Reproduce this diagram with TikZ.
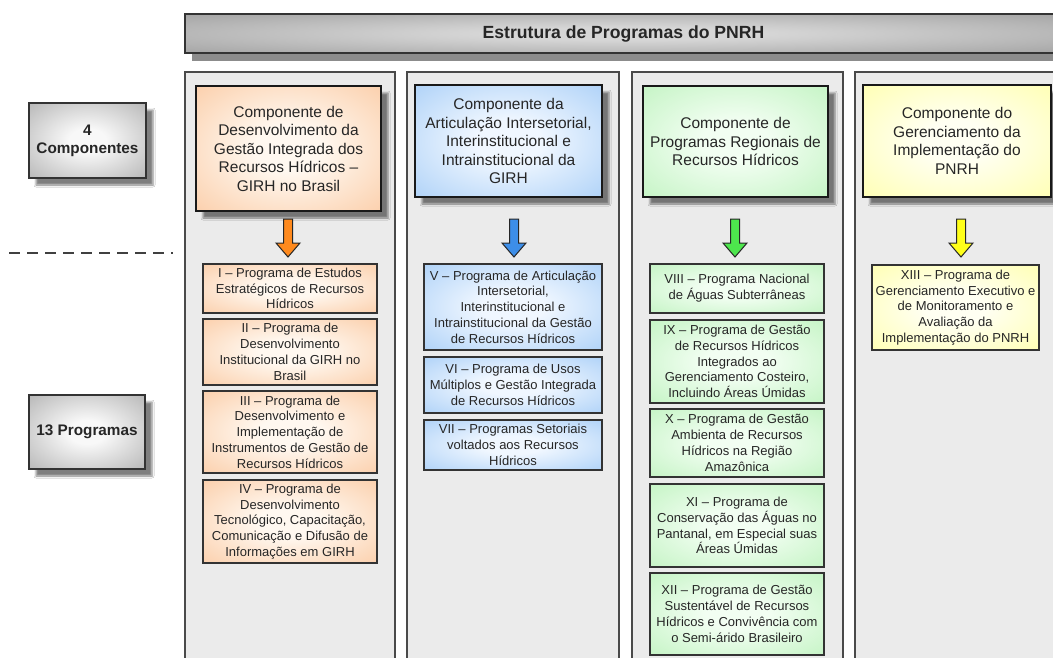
\documentclass[tikz,border=0pt]{standalone}
\usepackage{fontspec}
\setmainfont{Liberation Sans}
\usetikzlibrary{shadows.blur}
\definecolor{txtc}{HTML}{262626}
\definecolor{orC}{HTML}{FFF8F0}
\definecolor{orE}{HTML}{F8AE74}
\definecolor{blC}{HTML}{F0F7FF}
\definecolor{blE}{HTML}{7AB4F2}
\definecolor{grC}{HTML}{F2FEF2}
\definecolor{grE}{HTML}{A0ECA0}
\definecolor{yeC}{HTML}{FFFFF2}
\definecolor{yeE}{HTML}{FFFF82}
\definecolor{gyC}{HTML}{F8F8F8}
\definecolor{gyE}{HTML}{888888}
\definecolor{tiC}{HTML}{D6D6D6}
\definecolor{tiE}{HTML}{8A8A8A}
\definecolor{colF}{HTML}{EBEBEB}
\definecolor{colB}{HTML}{4A4A4A}
\definecolor{arO}{HTML}{FF8A1E}
\definecolor{arB}{HTML}{3D8EE8}
\definecolor{arG}{HTML}{4DE64D}
\definecolor{arY}{HTML}{FFFF1A}
\pgfdeclareradialshading{shO}{\pgfpoint{0bp}{0bp}}{color(0bp)=(orC); color(9bp)=(orC); color(58bp)=(orE); color(80bp)=(orE)}
\pgfdeclareradialshading{shB}{\pgfpoint{0bp}{0bp}}{color(0bp)=(blC); color(9bp)=(blC); color(58bp)=(blE); color(80bp)=(blE)}
\pgfdeclareradialshading{shG}{\pgfpoint{0bp}{0bp}}{color(0bp)=(grC); color(9bp)=(grC); color(58bp)=(grE); color(80bp)=(grE)}
\pgfdeclareradialshading{shY}{\pgfpoint{0bp}{0bp}}{color(0bp)=(yeC); color(9bp)=(yeC); color(58bp)=(yeE); color(80bp)=(yeE)}
\pgfdeclareradialshading{shGy}{\pgfpoint{0bp}{0bp}}{color(0bp)=(gyC); color(8bp)=(gyC); color(56bp)=(gyE); color(80bp)=(gyE)}
\pgfdeclareradialshading{shT}{\pgfpoint{0bp}{0bp}}{color(0bp)=(tiC); color(8bp)=(tiC); color(50bp)=(tiE); color(75bp)=(tiE)}
\tikzset{
  boxshadow/.style={blur shadow={shadow xshift=7pt, shadow yshift=-7pt, shadow blur radius=2pt, shadow opacity=50}},
  colbox/.style={draw=colB, line width=1.3pt, fill=colF, anchor=north west, outer sep=0pt, inner sep=0pt, minimum width=#1, minimum height=660},
  comp/.style={draw=black!90, line width=2.2pt, shading=#1, boxshadow, text=txtc, align=center, inner sep=0pt, outer sep=0pt,
    font=\fontsize{15.5}{18.5}\selectfont},
  prog/.style={draw=black!80, line width=1.5pt, shading=#1, text=txtc, align=center, inner sep=0pt, outer sep=0pt,
    anchor=north west, font=\fontsize{13}{15.8}\selectfont},
  lbl/.style={draw=black!80, line width=2pt, shading=shGy, boxshadow, text=txtc, align=center, inner sep=0pt,
    font=\fontsize{15.3}{18}\selectfont\bfseries},
  blockarrow/.style={draw=black!85, line width=1pt, fill=#1, line join=miter},
  sep/.style={draw=black!75, line width=1.5pt, dash pattern=on 11pt off 7pt},
}
\newcommand{\barrow}[2]{\path[blockarrow=#2, shift={(#1)}] (-4.5,0) -- (4.5,0) -- (4.5,24) -- (12,24) -- (0,38) -- (-12,24) -- (-4.5,24) -- cycle;}
\begin{document}
\begin{tikzpicture}[x=1pt,y=-1pt]
\useasboundingbox (0,0) rectangle (1053,657);
\clip (0,0) rectangle (1053,657);
\fill[white] (0,0) rectangle (1053,657);
% title bar
\node[draw=black!80, line width=2pt, shading=shT, anchor=north west, minimum width=877, minimum height=39, inner sep=0pt,
  drop shadow={shadow xshift=7pt, shadow yshift=-8pt, fill=black!45, opacity=1}] (title) at (184,13) {};
\node[text=black!85, font=\fontsize{17.6}{20}\selectfont\bfseries, inner sep=0pt] (titletext) at (title.center) {Estrutura de Programas do PNRH};
% columns
\node[colbox=210] (col1) at (185,72) {};
\node[colbox=212] (col2) at (407,72) {};
\node[colbox=211] (col3) at (632,72) {};
\node[colbox=212] (col4) at (855,72) {};
% left labels
\node[lbl, minimum width=117, minimum height=75] (lab1) at (87.5,140.5) {4\\Componentes};
\node[lbl, minimum width=116, minimum height=74] (lab2) at (87,432) {13 Programas};
\coordinate (d1) at (9,253);
\coordinate (d2) at (173,253);
\draw[sep] (d1) -- (d2);
% components
\node[comp=shO, minimum width=185, minimum height=125] (c1) at (288.5,148.5) {Componente de\\Desenvolvimento da\\Gestão Integrada dos\\Recursos Hídricos –\\GIRH no Brasil};
\node[comp=shB, minimum width=187, minimum height=112] (c2) at (508.5,141) {Componente da\\Articulação Intersetorial,\\Interinstitucional e\\Intrainstitucional da\\GIRH};
\node[comp=shG, minimum width=185, minimum height=111] (c3) at (735.5,141.5) {Componente de\\Programas Regionais de\\Recursos Hídricos};
\node[comp=shY, minimum width=188, minimum height=112] (c4) at (957,141) {Componente do\\Gerenciamento da\\Implementação do\\PNRH};
% arrows
\coordinate (a1) at (288,219);
\coordinate (a2) at (514,219);
\coordinate (a3) at (735,219);
\coordinate (a4) at (961,219);
\barrow{a1}{arO}
\barrow{a2}{arB}
\barrow{a3}{arG}
\barrow{a4}{arY}
% programs
\node[prog=shO, minimum width=174, minimum height=49] (p1) at (203,264) {I – Programa de Estudos\\Estratégicos de Recursos\\Hídricos};
\node[prog=shO, minimum width=174, minimum height=66] (p2) at (203,319) {II – Programa de\\Desenvolvimento\\Institucional da GIRH no\\Brasil};
\node[prog=shO, minimum width=174, minimum height=82] (p3) at (203,391) {III – Programa de\\Desenvolvimento e\\Implementação de\\Instrumentos de Gestão de\\Recursos Hídricos};
\node[prog=shO, minimum width=174, minimum height=83] (p4) at (203,480) {IV – Programa de\\Desenvolvimento\\Tecnológico, Capacitação,\\Comunicação e Difusão de\\Informações em GIRH};
\node[prog=shB, minimum width=178, minimum height=86] (p5) at (424,264) {V – Programa de Articulação\\Intersetorial,\\Interinstitucional e\\Intrainstitucional da Gestão\\de Recursos Hídricos};
\node[prog=shB, minimum width=178, minimum height=56] (p6) at (424,357) {VI – Programa de Usos\\Múltiplos e Gestão Integrada\\de Recursos Hídricos};
\node[prog=shB, minimum width=178, minimum height=50] (p7) at (424,420) {VII – Programas Setoriais\\voltados aos Recursos\\Hídricos};
\node[prog=shG, minimum width=174, minimum height=49] (p8) at (650,264) {VIII – Programa Nacional\\de Águas Subterrâneas};
\node[prog=shG, minimum width=174, minimum height=83] (p9) at (650,320) {IX – Programa de Gestão\\de Recursos Hídricos\\Integrados ao\\Gerenciamento Costeiro,\\Incluindo Áreas Úmidas};
\node[prog=shG, minimum width=174, minimum height=68] (p10) at (650,409) {X – Programa de Gestão\\Ambienta de Recursos\\Hídricos na Região\\Amazônica};
\node[prog=shG, minimum width=174, minimum height=83] (p11) at (650,484) {XI – Programa de\\Conservação das Águas no\\Pantanal, em Especial suas\\Áreas Úmidas};
\node[prog=shG, minimum width=174, minimum height=82] (p12) at (650,573) {XII – Programa de Gestão\\Sustentável de Recursos\\Hídricos e Convivência com\\o Semi-árido Brasileiro};
\node[prog=shY, minimum width=167, minimum height=85] (p13) at (872,265) {XIII – Programa de\\Gerenciamento Executivo e\\de Monitoramento e\\Avaliação da\\Implementação do PNRH};
\end{tikzpicture}
\end{document}
